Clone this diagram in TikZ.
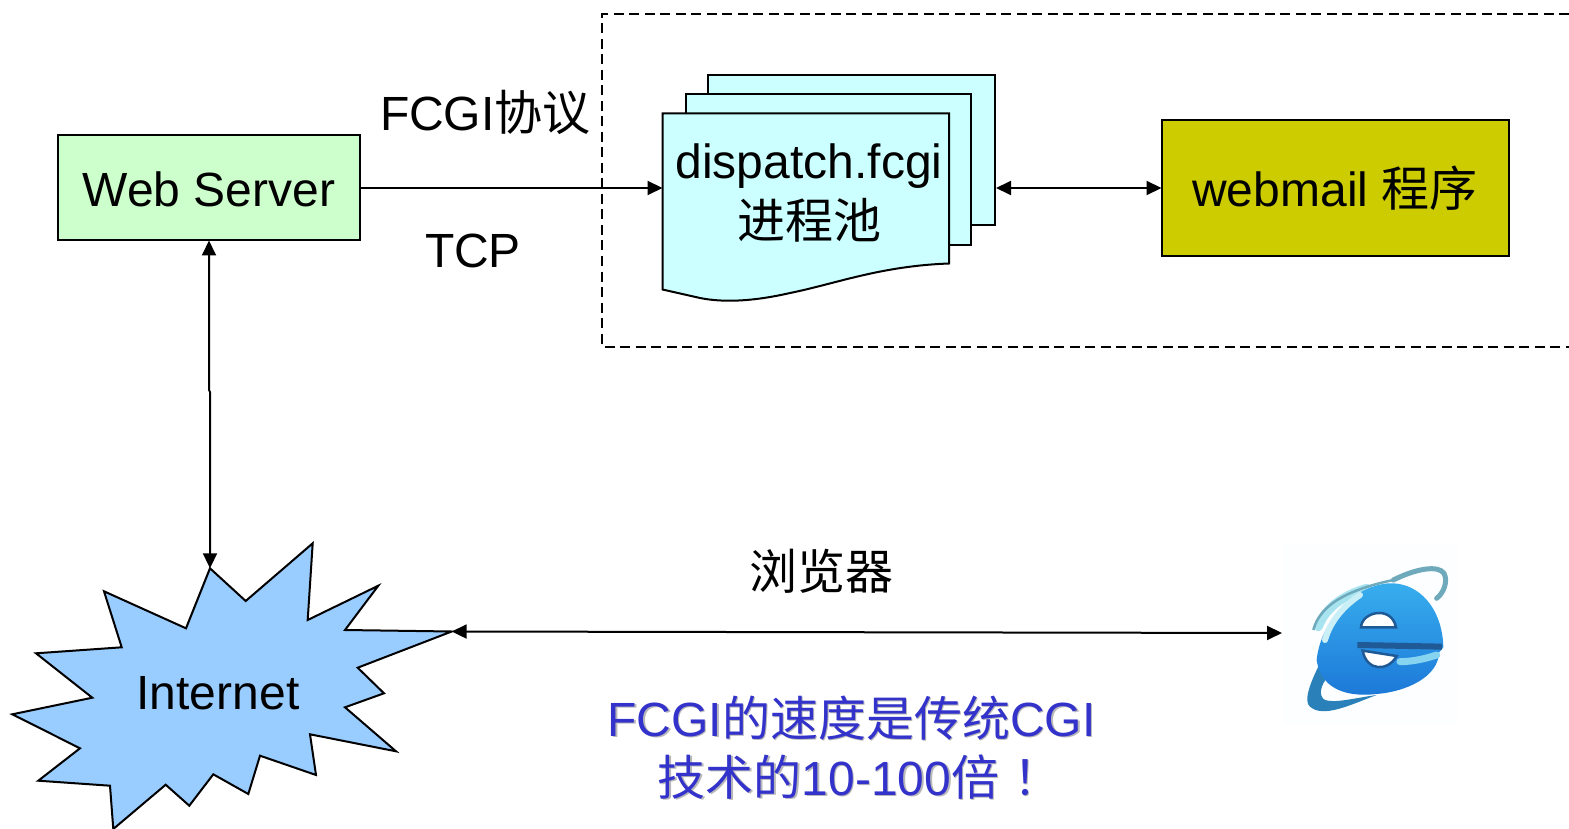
\documentclass[tikz,border=0pt]{standalone}
\usepackage{fontspec}
\setmainfont{Liberation Sans}
\newfontfamily\cjk{Noto Sans CJK SC}
\usetikzlibrary{arrows.meta}
\definecolor{webgreen}{HTML}{CCFFCC}
\definecolor{poolcyan}{HTML}{CCFFFF}
\definecolor{mailolive}{HTML}{CCCC00}
\definecolor{starblue}{HTML}{99CCFF}
\definecolor{noteblue}{HTML}{3333CC}
\definecolor{noteshade}{HTML}{B8B8B8}
\definecolor{ieteal}{HTML}{6FA9BC}
\definecolor{iecyan}{HTML}{A8E4F0}
\definecolor{iering}{HTML}{2A80B8}
\definecolor{iedark}{HTML}{1F5A96}
\definecolor{ietop}{HTML}{38AEEE}
\definecolor{iebottom}{HTML}{1C78D8}
\definecolor{iepale}{HTML}{FCFEFF}
\tikzset{
  every node/.style={font=\fontsize{48}{60}\selectfont,inner sep=0pt,outer sep=0pt},
  boxed/.style={draw=black,line width=2pt,minimum height=#1,text height=38pt,text depth=0pt},
  line/.style={line width=2pt,draw=black},
  both/.style={line,{Triangle[length=15pt,width=14pt]}-{Triangle[length=15pt,width=14pt]}},
  onearrow/.style={line,-{Triangle[length=15pt,width=14pt]}},
  sheet/.style={draw=black,line width=2pt,fill=poolcyan,line join=miter},
  plain/.style={anchor=base,align=center},
  notetext/.style={anchor=base,align=center,text=noteblue},
  noteback/.style={anchor=base,align=center,text=noteshade}
}
\newcommand{\notebody}{FCGI{\cjk 的速度是传统}CGI\\[-1pt]\mbox{}\hspace{16pt}{\cjk 技术的}10-100{\cjk 倍\hspace{14pt}！}}
\begin{document}
\begin{tikzpicture}[x=1pt,y=-1pt]
\useasboundingbox (0,0) rectangle (1569,829);
\clip (0,0) rectangle (1569,829);
% dashed frame
\draw[line width=2pt,dash pattern=on 10pt off 5.5pt] (1600,14) -- (602,14) -- (602,346.5) -- (1600,346.5);
% document stack
\draw[sheet] (708,75) -- (995,75) -- (995,225.5) -- (708,225.5) -- cycle;
\draw[sheet] (686,94) -- (971,94) -- (971,245) -- (686,245) -- cycle;
\draw[sheet] (662.5,113.5) -- (949,113.5) -- (949,263.5)
  .. controls (880,266) and (835,284) .. (790,293)
  .. controls (755,301) and (725,303) .. (700,298)
  -- (662.5,289.5) -- cycle;
\coordinate (poolW) at (662.5,188);
\coordinate (poolE) at (996,188);
\node[plain] (pool) at (809,238.5) {dispatch.fcgi\\[-0.5pt]{\cjk 进程池}};
% boxes
\node[boxed=105pt,minimum width=302pt,fill=webgreen] (web) at (209,188) {Web Server};
\node[boxed=136pt,minimum width=347pt,fill=mailolive] (mail) at (1335,188) {webmail {\cjk 程序}};
% star
\coordinate (starTop) at (210,568.3);
\coordinate (starRight) at (451.7,631.5);
\draw[line width=2pt,fill=starblue,line join=miter]
 (starTop) -- (245.7,601) -- (312.7,543.3) -- (307.7,620) -- (378.3,585.7) -- (345,630)
 -- (starRight) -- (357.7,667.7) -- (384,693.3) -- (345,707.3) -- (396,751.3) -- (310,734.3)
 -- (316,775) -- (260,755.7) -- (248.3,794) -- (213.3,774.3) -- (189.3,805.7) -- (165.7,784.7)
 -- (113.3,829) -- (110,785.7) -- (38.3,780.7) -- (80,748.3) -- (12.3,714.3) -- (92.3,697.7)
 -- (36,653.3) -- (121.7,647.3) -- (104,591.3) -- (186,628.3) -- cycle;
\node[plain] (internet) at (218,709) {Internet};
% labels
\node[plain,anchor=base west] (fcgi) at (380,131) {FCGI{\cjk 协议}};
\node[plain,anchor=base west] (tcp) at (425,267) {TCP};
\node[plain] (browser) at (821,589) {\cjk 浏览器};
\node[noteback] (noteb) at (853,796.5) {\notebody};
\node[notetext] (note) at (851.5,795) {\notebody};
% IE icon (zoom coordinates, 3 units per pixel)
\begin{scope}[x=0.33333pt,y=-0.33333pt,shift={(3780,1590)}]
 \fill[iepale] (70,40) rectangle (595,585);
 % upper ring
 \draw[line width=5pt,ieteal,line cap=round]
   (400,150) .. controls (470,115) and (535,105) .. (552,130)
   .. controls (565,155) and (550,190) .. (530,205);
 \draw[line width=9pt,iecyan,line cap=round]
   (175,290) .. controls (195,235) and (250,195) .. (320,175);
 \draw[line width=2.5pt,ieteal]
   (160,300) .. controls (180,225) and (260,180) .. (400,150);
 % lower ring
 \fill[iering]
   (175,410) .. controls (150,460) and (130,515) .. (150,530)
   .. controls (190,565) and (270,525) .. (350,495)
   .. controls (280,505) and (225,520) .. (195,510)
   .. controls (175,500) and (180,465) .. (205,440) -- cycle;
 % body of the e
 \shade[top color=ietop,bottom color=iebottom]
   (170,390) .. controls (180,285) and (270,170) .. (385,160)
   .. controls (480,155) and (548,240) .. (550,352)
   -- (537,368) .. controls (535,440) and (440,485) .. (350,492)
   .. controls (280,500) and (185,490) .. (170,390) -- cycle;
 % highlight sweep
 \draw[line width=6pt,iecyan!60!white,line cap=round]
   (195,330) .. controls (212,270) and (255,225) .. (300,195);
 % eye of the e
 \fill[white,draw=iedark,line width=2.5pt]
   (303,292) .. controls (305,245) and (395,225) .. (408,292) -- cycle;
 % bar
 \draw[line width=6pt,iedark] (292,345) -- (546,350);
 % mouth of the e
 \fill[white,draw=iedark,line width=2.5pt]
   (308,362) -- (410,378) .. controls (385,425) and (320,425) .. (308,362) -- cycle;
 % lighter lower edge of the mouth
 \draw[line width=7pt,iecyan!70!ietop,line cap=round] (420,395) .. controls (460,395) and (500,385) .. (530,375);
\end{scope}
% connectors
\draw[onearrow] (web.east) -- (poolW);
\draw[both] (poolE) -- (mail.west);
\draw[both] (web.south) -- (209,390) -- (210,392) -- (starTop);
\draw[both] (starRight) -- (1282,633);
\end{tikzpicture}
\end{document}
